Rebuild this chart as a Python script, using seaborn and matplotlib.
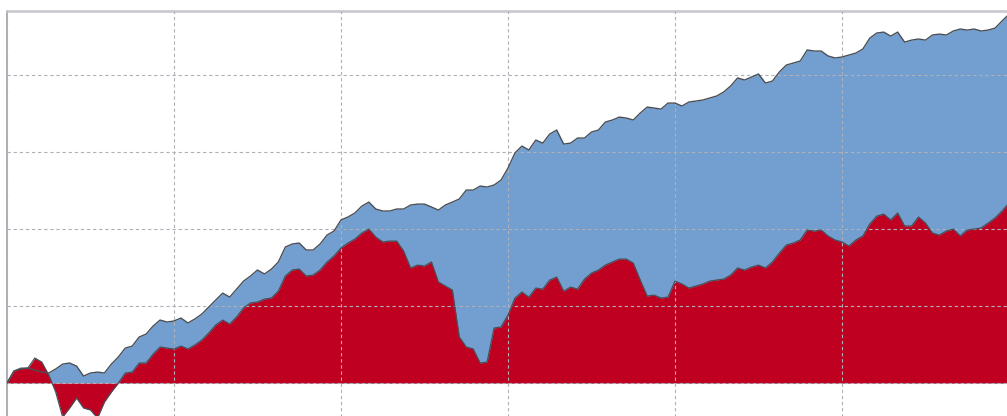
import numpy as np
import pandas as pd
import seaborn as sns
import matplotlib
matplotlib.use("Agg")
import matplotlib.pyplot as plt

# semi-monthly observations, cumulative return (%)
portfolio = [
    0.0, 7.8, 9.1, 9.7, 8.4, 7.1, 6.5, 9.1, 12.3, 13.0, 11.0, 4.5, 6.5, 7.1, 6.5, 12.3,
    16.9, 22.7, 24.0, 29.9, 31.8, 37.0, 40.9, 39.6, 40.3, 42.2, 39.0, 41.6, 44.8, 49.4,
    53.9, 58.4, 55.8, 61.0, 66.2, 69.5, 73.4, 70.8, 74.0, 78.6, 88.3, 90.3, 90.9, 86.4,
    86.4, 90.3, 96.1, 98.7, 105.9, 107.8, 110.4, 114.9, 117.5, 113.0, 111.7, 111.7,
    113.0, 113.0, 115.6, 116.2, 116.2, 114.3, 112.3, 115.6, 117.5, 119.5, 125.3, 125.3,
    127.9, 127.3, 128.6, 131.8, 139.6, 149.4, 153.9, 151.3, 157.8, 155.8, 161.7, 164.3,
    155.2, 155.8, 159.1, 159.1, 163.0, 164.3, 169.5, 170.8, 172.7, 172.1, 170.8, 175.3,
    179.2, 178.6, 177.9, 181.8, 181.8, 179.9, 182.5, 183.1, 183.8, 185.1, 186.4, 189.0,
    192.9, 198.1, 196.8, 198.7, 200.7, 194.8, 196.1, 202.0, 206.5, 207.8, 209.1, 216.3,
    215.6, 215.6, 212.4, 211.1, 211.7, 213.0, 214.3, 216.9, 224.0, 227.3, 227.9, 225.3,
    227.9, 221.4, 222.7, 223.4, 222.7, 226.0, 226.6, 226.0, 228.6, 229.9, 229.2, 229.9,
    228.6, 229.2, 230.5, 235.1, 239.5,
]
benchmark = [
    0.0, 7.8, 9.7, 9.7, 16.2, 13.6, 5.2, -5.8, -22.0, -16.2, -9.7, -16.2, -17.5, -22.7,
    -12.3, -5.8, 0.0, 6.5, 7.1, 13.0, 13.0, 18.8, 23.4, 22.7, 22.1, 24.0, 22.1, 24.7,
    27.9, 32.5, 37.7, 40.9, 38.3, 42.9, 48.7, 52.0, 52.6, 54.5, 55.2, 59.7, 69.5, 73.4,
    74.0, 69.5, 70.1, 73.4, 78.6, 82.5, 87.7, 90.9, 93.5, 97.4, 100.0, 94.8, 91.6, 92.2,
    92.2, 85.7, 74.7, 76.6, 76.0, 78.6, 65.6, 63.0, 60.4, 29.9, 23.4, 22.1, 13.0, 13.6,
    35.7, 36.4, 44.2, 55.2, 59.1, 55.8, 61.7, 61.0, 66.9, 68.8, 59.7, 62.3, 61.0, 67.5,
    71.4, 73.4, 76.6, 78.6, 80.5, 80.5, 77.9, 66.9, 56.5, 57.1, 55.2, 55.8, 66.2, 64.3,
    61.7, 63.0, 64.3, 66.2, 66.9, 67.5, 70.1, 74.7, 73.4, 75.3, 76.6, 74.7, 78.6, 84.4,
    89.6, 90.9, 92.9, 99.4, 98.7, 99.4, 95.5, 92.9, 91.6, 89.0, 92.9, 95.5, 103.3, 108.4,
    109.7, 105.9, 110.4, 102.0, 102.0, 107.8, 103.9, 97.4, 96.1, 98.7, 100.0, 95.5, 99.4,
    100.0, 100.7, 103.9, 107.2, 111.7, 116.9,
]
years = np.arange(len(portfolio)) / 24

df = pd.DataFrame({"year": years, "portfolio": portfolio, "benchmark": benchmark})

sns.set_theme(style="white")
plt.rcParams['font.family'] = ['DejaVu Sans']

BLUE = "#729fcf"
RED = "#c00021"
EDGE = "#4a4f57"

fig = plt.figure(figsize=(10.07, 4.16), dpi=100)
# axes runs off the right and bottom of the canvas, like the source
ax = fig.add_axes([7 / 1007, -14 / 416, 1012 / 1007, 419 / 416])

ax.fill_between(df["year"], 0, df["portfolio"], color=BLUE, linewidth=0, zorder=1)
ax.fill_between(df["year"], 0, df["benchmark"], color=RED, linewidth=0, zorder=1.5)
sns.lineplot(data=df, x="year", y="portfolio", color=EDGE, linewidth=1.0, ax=ax, zorder=3)
sns.lineplot(data=df, x="year", y="benchmark", color=EDGE, linewidth=0.9, ax=ax, zorder=3)

ax.set_xlim(0, 6.06)
ax.set_ylim(-30.5, 241.6)
ax.set_xticks(np.arange(0, 7))
ax.set_yticks([0, 50, 100, 150, 200])
ax.set_axisbelow(False)
ax.grid(True, color="#b0b0b8", linewidth=0.8, linestyle=(0, (3, 2.5)))
ax.tick_params(length=0, labelbottom=False, labelleft=False)
ax.set_xlabel("")
ax.set_ylabel("")

for side in ["right", "bottom"]:
    ax.spines[side].set_visible(False)
ax.spines["top"].set_color("#cbcbcf")
ax.spines["top"].set_linewidth(2)
ax.spines["left"].set_color("#a0a0a8")
ax.spines["left"].set_linewidth(1.2)

fig.savefig("out.png", dpi=100)
